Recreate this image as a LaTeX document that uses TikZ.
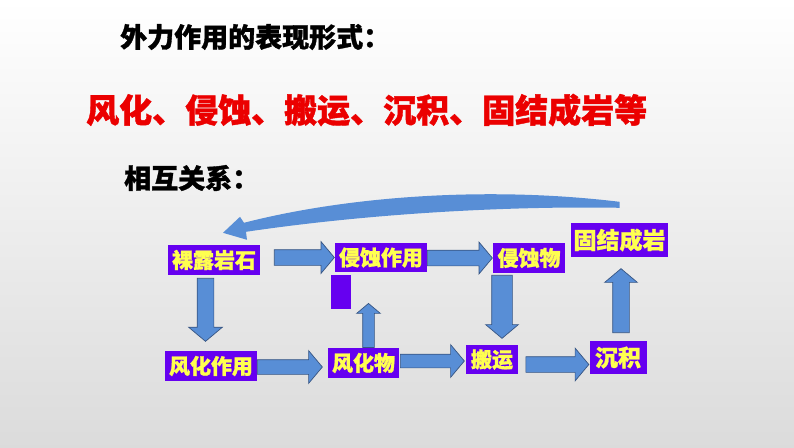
\documentclass[tikz,border=0pt]{standalone}
\usepackage{fontspec}
\setmainfont{Noto Sans CJK SC}[BoldFeatures={FakeBold=1.2}]
\usetikzlibrary{shapes.arrows,calc}
\definecolor{boxpurple}{RGB}{102,0,240}
\definecolor{boxyellow}{RGB}{255,255,80}
\definecolor{arrowblue}{RGB}{88,142,214}
\definecolor{arrowedge}{RGB}{55,85,130}
\definecolor{titlered}{RGB}{235,0,0}

\begin{document}
\begin{tikzpicture}[x=1pt,y=-1pt,
    box/.style={fill=boxpurple,text=boxyellow,font=\bfseries\fontsize{21}{21}\selectfont,inner sep=0pt,minimum height=30pt},
    blockarrow/.style={single arrow,draw=arrowedge,fill=arrowblue,line width=0.7pt,inner xsep=0pt,inner ysep=7.5pt,single arrow tip angle=100,single arrow head extend=8pt},
    heading/.style={anchor=west,inner sep=0pt,font=\bfseries\fontsize{27}{27}\selectfont}]
    \shade[top color=white,middle color=gray!6,bottom color=gray!28] (0,0) rectangle (794,447);
    \useasboundingbox (0,0) rectangle (794,447);

    \node[heading] (title) at (120,37) {外力作用的表现形式：};
    \node[heading,text=titlered,font=\bfseries\fontsize{33}{33}\selectfont] (forms) at (86,110) {风化、侵蚀、搬运、沉积、固结成岩等};
    \node[heading] (relation) at (124,178) {相互关系：};

    \node[box,minimum width=92pt] (rock) at (214,260) {裸露岩石};
    \node[box,minimum width=92pt,minimum height=29pt] (erosion) at (381,257.5) {侵蚀作用};
    \node[box,minimum width=72pt] (eroded) at (529,258) {侵蚀物};
    \node[box,minimum width=97pt,minimum height=34pt,font=\bfseries\fontsize{23}{23}\selectfont] (lithify) at (619.5,240) {固结成岩};
    \node[box,minimum width=92pt] (weathering) at (211,366) {风化作用};
    \node[box,minimum width=71pt] (weathered) at (363.5,363) {风化物};
    \node[box,minimum width=52pt,minimum height=29pt] (transport) at (492,359.5) {搬运};
    \node[box,minimum width=57pt,minimum height=33pt,font=\bfseries\fontsize{23}{23}\selectfont] (deposit) at (618,357.5) {沉积};
    \node[fill=boxpurple,inner sep=0pt,minimum width=20pt,minimum height=34pt] (stub) at (341,292) {};

    \node[blockarrow,minimum height=60pt,anchor=tip] (a1) at (erosion.west) {};
    \node[blockarrow,minimum height=65pt,anchor=tip] (a2) at (eroded.west) {};
    \node[blockarrow,minimum height=65pt,inner ysep=7pt,single arrow head extend=9pt,anchor=tip] (a3) at ([xshift=-5pt,yshift=-4pt]weathered.west) {};
    \node[blockarrow,minimum height=64pt,inner ysep=6.5pt,single arrow head extend=9.5pt,anchor=tip] (a4) at ([xshift=-1pt,yshift=-1.5pt]transport.west) {};
    \node[blockarrow,minimum height=63pt,single arrow head extend=8.5pt,anchor=tip] (a5) at ([yshift=-7pt]deposit.west) {};
    \node[blockarrow,rotate=-90,minimum height=63pt,inner ysep=8pt,single arrow head extend=8.5pt,anchor=tip] (d1) at ([xshift=-5.5pt,yshift=9pt]weathering.north) {};
    \node[blockarrow,rotate=-90,minimum height=63pt,inner ysep=10pt,single arrow head extend=6pt,anchor=tip] (d2) at ([xshift=10pt,yshift=6pt]transport.north) {};
    \node[blockarrow,rotate=90,minimum height=44pt,inner ysep=5.5pt,single arrow head extend=6pt,anchor=tail] (u1) at ([xshift=5pt]weathered.north) {};
    \node[blockarrow,rotate=90,minimum height=64pt,inner ysep=8pt,single arrow head extend=8pt,anchor=tip] (u2) at ([xshift=1.5pt,yshift=-11pt]lithify.south) {};

    \coordinate (back) at ([yshift=18pt]lithify.north);
    \coordinate (tip) at ([xshift=9pt,yshift=12pt]rock.north);
    \fill[arrowblue] (tip) -- ++(17,-16) -- ++(4,6)
        .. controls (340,198) and (480,185) .. ($(back)+(0,-3)$) -- ($(back)+(0,3)$)
        .. controls (520,206) and (380,212) .. ($(tip)+(23,-1)$) -- ++(1,8) -- cycle;
\end{tikzpicture}
\end{document}
